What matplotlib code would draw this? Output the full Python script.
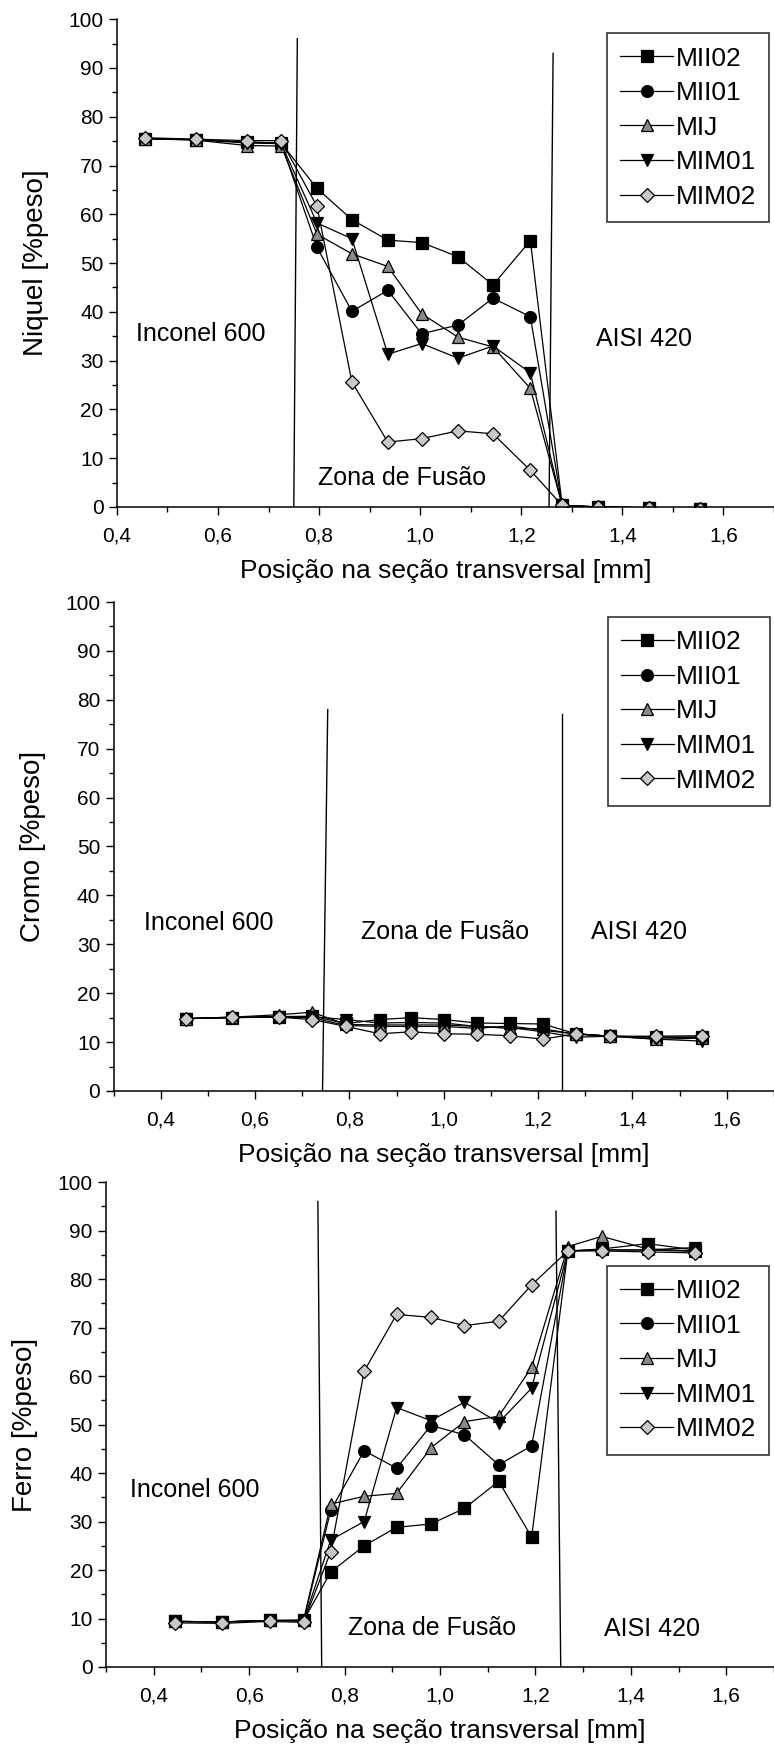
import matplotlib
matplotlib.use("Agg")
import matplotlib.pyplot as plt
from matplotlib.ticker import MultipleLocator, FuncFormatter

plt.rcParams['font.family'] = ['Liberation Sans', 'DejaVu Sans']

series_names = ['MII02', 'MII01', 'MIJ', 'MIM01', 'MIM02']

# Niquel
x_ni = [0.455, 0.556, 0.657, 0.725, 0.796, 0.865, 0.936, 1.003, 1.075, 1.144, 1.218, 1.281, 1.352, 1.453, 1.554]
ni_mii02 = [75.5, 75.3, 74.8, 74.6, 65.3, 58.9, 54.7, 54.2, 51.3, 45.5, 54.6, 0.3, 0.0, -0.2, -0.4]
ni_mii01 = [75.5, 75.3, 74.8, 74.6, 53.2, 40.1, 44.4, 35.5, 37.3, 42.8, 39.0, 0.3, 0.0, -0.2, -0.4]
ni_mij = [75.5, 75.2, 74.1, 74.0, 55.9, 51.9, 49.3, 39.6, 34.8, 32.8, 24.3, 0.3, 0.0, -0.2, -0.4]
ni_mim01 = [75.5, 75.3, 74.6, 74.5, 58.2, 55.0, 31.3, 33.5, 30.5, 33.0, 27.5, 0.3, 0.0, -0.2, -0.4]
ni_mim02 = [75.7, 75.4, 75.1, 75.1, 61.6, 25.6, 13.3, 14.0, 15.6, 15.0, 7.5, 0.3, 0.0, -0.2, -0.4]

# Cromo
x_cr = [0.454, 0.552, 0.651, 0.721, 0.793, 0.864, 0.931, 1.001, 1.070, 1.140, 1.210, 1.280, 1.353, 1.450, 1.548]
cr_mii02 = [14.8, 15.0, 15.2, 15.3, 13.8, 14.6, 15.0, 14.6, 13.9, 13.8, 13.7, 11.7, 11.2, 11.0, 11.0]
cr_mii01 = [14.8, 15.0, 15.1, 15.0, 13.4, 13.2, 13.2, 13.2, 12.8, 13.3, 12.4, 11.7, 11.2, 11.0, 11.0]
cr_mij = [14.8, 15.1, 15.6, 16.1, 13.6, 13.5, 13.5, 13.5, 13.2, 12.8, 12.7, 11.6, 11.2, 10.6, 10.8]
cr_mim01 = [14.8, 15.0, 15.2, 15.2, 14.6, 13.9, 14.0, 13.9, 13.2, 13.0, 12.1, 11.0, 11.2, 10.6, 10.2]
cr_mim02 = [14.8, 15.1, 15.1, 14.6, 13.2, 11.7, 12.1, 11.7, 11.6, 11.3, 10.6, 11.7, 11.2, 11.2, 11.3]

# Ferro
x_fe = [0.444, 0.544, 0.643, 0.714, 0.771, 0.841, 0.909, 0.981, 1.051, 1.123, 1.192, 1.268, 1.339, 1.435, 1.535]
fe_mii02 = [9.4, 9.3, 9.6, 9.6, 19.6, 25.0, 28.8, 29.5, 32.7, 38.3, 26.8, 85.8, 86.2, 87.3, 86.0]
fe_mii01 = [9.4, 9.3, 9.6, 9.5, 32.3, 44.6, 41.0, 49.8, 47.9, 41.7, 45.6, 85.8, 86.0, 86.0, 85.7]
fe_mij = [9.4, 9.3, 9.6, 9.7, 33.6, 35.2, 35.8, 45.2, 50.6, 51.7, 61.8, 86.7, 88.8, 86.2, 85.8]
fe_mim01 = [9.4, 9.3, 9.6, 9.5, 26.2, 30.0, 53.5, 50.8, 54.6, 50.4, 57.5, 85.8, 86.0, 86.0, 86.5]
fe_mim02 = [9.1, 9.0, 9.4, 9.2, 23.8, 61.0, 72.7, 72.1, 70.4, 71.3, 78.8, 85.8, 85.8, 85.6, 85.4]

# estilo de cada serie: marcador, cor de preenchimento
estilos = [('s', 'black'), ('o', 'black'), ('^', '#8a8a8a'), ('v', 'black'), ('D', '#c8c8c8')]


def virgula(v, pos):
    return f'{v:.1f}'.replace('.', ',')


def painel(ax, x, ys, ylabel, xmin, linhas, textos, leg_pos):
    for nome, y, (mk, fc) in zip(series_names, ys, estilos):
        ms = 7.5 if mk == 'D' else 8.5
        ax.plot(x, y, '-', color='black', lw=0.9, marker=mk, markersize=ms,
                markerfacecolor=fc, markeredgecolor='black', markeredgewidth=0.9,
                label=nome)
    # linhas que separam as regioes
    for xb, xt, yt in linhas:
        ax.plot([xb, xt], [0, yt], color='black', lw=1.0)
    for txt, tx, ty in textos:
        ax.text(tx, ty, txt, fontsize=18, ha='center', va='center')

    ax.set_xlim(xmin, 1.7)
    ax.set_ylim(0, 100)
    ax.xaxis.set_major_locator(MultipleLocator(0.2))
    ax.xaxis.set_minor_locator(MultipleLocator(0.1))
    ax.yaxis.set_major_locator(MultipleLocator(10))
    ax.yaxis.set_minor_locator(MultipleLocator(5))
    ax.set_xticks([0.4, 0.6, 0.8, 1.0, 1.2, 1.4, 1.6])
    ax.xaxis.set_major_formatter(FuncFormatter(virgula))
    ax.tick_params(which='major', direction='out', length=6, width=1, labelsize=15)
    ax.tick_params(which='minor', direction='out', length=3.5, width=1)
    ax.tick_params(axis='x', pad=8)
    for s in ['top', 'right']:
        ax.spines[s].set_visible(False)
    ax.spines['left'].set_linewidth(1.1)
    ax.spines['bottom'].set_linewidth(1.1)
    ax.set_xlabel('Posição na seção transversal [mm]', fontsize=19, labelpad=10)
    ax.set_ylabel(ylabel, fontsize=20, labelpad=14)

    leg = ax.legend(loc='upper left', bbox_to_anchor=leg_pos, fontsize=19,
                    frameon=True, fancybox=False, edgecolor='black',
                    handlelength=2.0, handletextpad=0.1, labelspacing=0.4,
                    borderpad=0.5, borderaxespad=0, numpoints=1)
    leg.get_frame().set_linewidth(1.2)


fig = plt.figure(figsize=(7.74, 17.45), dpi=100)

ax1 = fig.add_axes([0.151, 0.7095, 0.849, 0.2795])
painel(ax1, x_ni, [ni_mii02, ni_mii01, ni_mij, ni_mim01, ni_mim02], 'Niquel [%peso]', 0.4,
       [(0.75, 0.757, 96), (1.255, 1.263, 93)],
       [('Inconel 600', 0.565, 35.5), ('Zona de Fusão', 0.965, 6.0), ('AISI 420', 1.442, 34.4)],
       (0.746, 0.971))

ax2 = fig.add_axes([0.1467, 0.3748, 0.8533, 0.2802])
painel(ax2, x_cr, [cr_mii02, cr_mii01, cr_mij, cr_mim01, cr_mim02], 'Cromo [%peso]', 0.3,
       [(0.743, 0.754, 78), (1.25, 1.25, 77)],
       [('Inconel 600', 0.502, 34.4), ('Zona de Fusão', 1.003, 32.6), ('AISI 420', 1.413, 32.6)],
       (0.748, 0.969))

ax3 = fig.add_axes([0.137, 0.0447, 0.863, 0.2779])
painel(ax3, x_fe, [fe_mii02, fe_mii01, fe_mij, fe_mim01, fe_mim02], 'Ferro [%peso]', 0.3,
       [(0.752, 0.744, 96), (1.253, 1.243, 94)],
       [('Inconel 600', 0.485, 36.5), ('Zona de Fusão', 0.984, 8.1), ('AISI 420', 1.444, 7.9)],
       (0.75, 0.827))

fig.savefig('out.png', dpi=100, facecolor='white')
